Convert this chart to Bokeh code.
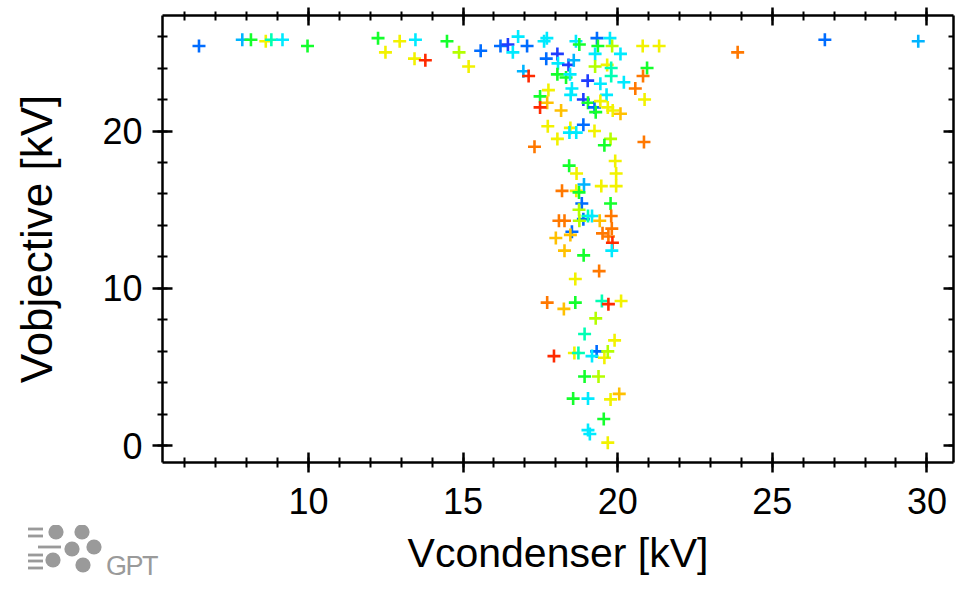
from bokeh.plotting import figure
from bokeh.layouts import column
from bokeh.models import (LinearAxis, SingleIntervalTicker, Div,
                          CustomJSTickFormatter)
from bokeh.embed import file_html
from bokeh.resources import INLINE

# ---------------- data ----------------
vcondenser = [6.46, 7.86, 8.14, 8.62, 8.80, 9.16, 9.97, 12.25, 12.49, 12.95,
              13.46, 13.43, 13.78, 14.48, 14.87, 15.18, 15.57, 16.21, 16.45, 16.61,
              16.78, 17.07, 17.62, 17.71, 18.65, 18.76, 19.33, 19.36, 19.75, 19.82,
              20.81, 21.34, 19.27, 20.09, 17.69, 18.05, 18.07, 18.41, 18.58, 19.27,
              19.66, 19.79, 16.95, 17.12, 18.05, 18.33, 18.46, 19.79, 20.95, 20.82,
              19.03, 19.44, 20.20, 20.57, 17.76, 18.52, 18.48, 19.64, 17.49, 17.72,
              17.49, 18.17, 18.89, 19.04, 19.25, 19.29, 19.44, 19.68, 19.84, 20.09,
              20.87, 17.74, 18.89, 18.47, 18.44, 18.66, 19.25, 18.05, 19.77, 20.85,
              17.31, 19.57, 18.43, 19.92, 18.67, 19.95, 18.91, 19.47, 19.95, 18.20,
              18.66, 18.75, 18.84, 19.77, 18.75, 19.79, 18.10, 18.28, 18.89, 19.04,
              19.17, 18.76, 19.42, 19.51, 19.81, 19.70, 19.83, 18.52, 18.47, 18.00,
              19.81, 18.28, 18.90, 19.40, 18.63, 17.72, 18.63, 19.49, 19.70, 20.11,
              18.26, 19.29, 18.93, 19.90, 17.94, 18.60, 18.73, 19.32, 19.17, 19.57,
              19.68, 18.93, 19.38, 18.56, 19.04, 19.77, 20.05, 19.55, 19.04, 19.10,
              19.68, 23.88, 26.70, 29.72]

vobjective = [25.4, 25.8, 25.8, 25.7, 25.8, 25.8, 25.4, 25.9, 25.0, 25.7,
              25.8, 24.6, 24.5, 25.7, 25.0, 24.1, 25.1, 25.4, 25.5, 25.0,
              26.0, 25.4, 25.7, 25.9, 25.7, 25.5, 25.9, 25.4, 25.9, 25.4,
              25.4, 25.4, 24.9, 24.9, 24.6, 24.9, 24.3, 24.2, 24.5, 24.1,
              24.2, 24.0, 23.8, 23.5, 23.6, 23.4, 23.6, 23.5, 24.0, 23.5,
              23.2, 23.0, 23.1, 22.7, 22.6, 22.7, 22.3, 22.3, 22.2, 21.8,
              21.5, 21.3, 22.0, 21.8, 21.5, 21.2, 21.9, 21.5, 21.3, 21.1,
              22.0, 20.3, 20.4, 20.2, 19.9, 19.9, 20.0, 19.5, 19.5, 19.3,
              19.0, 19.1, 17.8, 18.1, 17.3, 17.3, 16.6, 16.5, 16.5, 16.2,
              16.2, 16.1, 15.4, 15.4, 15.0, 14.6, 14.3, 14.3, 14.4, 14.6,
              14.6, 14.3, 14.3, 13.5, 13.8, 13.3, 12.9, 13.6, 13.4, 13.2,
              12.4, 12.4, 12.1, 11.1, 10.6, 9.1, 9.1, 9.2, 9.0, 9.2,
              8.7, 8.1, 7.1, 6.7, 5.7, 5.9, 5.9, 6.0, 5.7, 5.6,
              6.0, 4.4, 4.4, 3.0, 3.0, 2.95, 3.3, 1.7, 1.0, 0.75,
              0.2, 25.0, 25.8, 25.7]

color_codes = ["B", "LB", "G", "Y", "T", "C", "G", "G", "Y", "Y",
               "C", "Y", "R", "G", "YG", "Y", "B", "B", "DB", "C",
               "C", "B", "C", "C", "C", "G", "B", "G", "C", "YG",
               "Y", "Y", "C", "C", "B", "DB", "C", "DB", "LB", "YG",
               "Y", "T", "LB", "R", "G", "G", "C", "T", "G", "O",
               "DB", "C", "C", "O", "Y", "C", "C", "C", "G", "A",
               "R", "A", "DB", "G", "B", "G", "Y", "Y", "Y", "A",
               "Y", "Y", "B", "Y", "C", "C", "Y", "Y", "YG", "O",
               "O", "G", "G", "Y", "Y", "Y", "LB", "Y", "Y", "O",
               "Y", "G", "B", "G", "YG", "O", "O", "O", "B", "T",
               "C", "YG", "A", "O", "O", "O", "R", "B", "A", "A",
               "C", "A", "G", "O", "Y", "O", "G", "T", "R", "Y",
               "A", "YG", "T", "Y", "R", "Y", "T", "B", "C", "Y",
               "YG", "G", "YG", "G", "C", "Y", "A", "G", "C", "C",
               "Y", "O", "B", "LB"]

palette = {"DB": "#1f3cff", "B": "#006cff", "LB": "#00b4ff", "C": "#00eaff",
           "T": "#00ffb4", "G": "#14ff2c", "YG": "#b4ff00", "Y": "#f2f200",
           "A": "#ffc000", "O": "#ff7800", "R": "#ff2a00"}
colors = [palette[c] for c in color_codes]

x_label = "Vcondenser [kV]"
y_label = "Vobjective [kV]"
logo_text = "GPT"

X_RANGE = (5.28, 30.86)
Y_RANGE = (-1.06, 27.34)

FONT = "Liberation Sans"
W, H = 958, 589
FL, FR, FT, FB = 162, 953, 15, 462

p = figure(width=W, height=H, x_range=X_RANGE, y_range=Y_RANGE,
           output_backend="svg", toolbar_location=None,
           min_border_left=FL, min_border_right=W - FR,
           min_border_top=FT, min_border_bottom=H - FB,
           x_axis_label=x_label, y_axis_label=y_label)
p.outline_line_color = None
p.grid.visible = False
p.background_fill_color = "white"
p.border_fill_color = "white"

blank = CustomJSTickFormatter(code="return ''")


def style(ax, tin, tout, labels=True):
    ax.axis_line_width = 2.5
    ax.axis_line_color = "black"
    ax.major_tick_in = tin
    ax.major_tick_out = tout
    ax.minor_tick_in = tin // 2
    ax.minor_tick_out = tout // 2
    ax.major_tick_line_width = 2.5
    ax.minor_tick_line_width = 2
    ax.major_tick_line_color = "black"
    ax.minor_tick_line_color = "black"
    if labels:
        ax.major_label_text_font = FONT
        ax.major_label_text_font_size = "36px"
        ax.major_label_text_color = "black"
        ax.axis_label_text_font = FONT
        ax.axis_label_text_font_style = "normal"
        ax.axis_label_text_color = "black"
    else:
        ax.formatter = blank
        ax.major_label_standoff = 0


xb = p.xaxis[0]
xb.ticker = SingleIntervalTicker(interval=5, num_minor_ticks=5)
style(xb, 10, 10)
xb.major_label_standoff = 15
xb.axis_label_text_font_size = "41px"
xb.axis_label_standoff = 13

yl = p.yaxis[0]
yl.ticker = SingleIntervalTicker(interval=10, num_minor_ticks=5)
style(yl, 10, 10)
yl.major_label_standoff = 10
yl.axis_label_text_font_size = "44px"
yl.axis_label_standoff = 38

xt = LinearAxis(ticker=SingleIntervalTicker(interval=5, num_minor_ticks=5))
style(xt, 10, 8, labels=False)
p.add_layout(xt, "above")

yr = LinearAxis(ticker=SingleIntervalTicker(interval=10, num_minor_ticks=5))
style(yr, 10, 0, labels=False)
p.add_layout(yr, "right")

p.scatter(vcondenser, vobjective, marker="cross", size=13, line_width=2.6,
          line_color=colors)

# ---------------- GPT logo: transparent overlay over the bottom-left corner ----
GRAY = "#9a9a9a"
LH = 64
TOP = H - LH             # page y of the overlay's top edge
circ = [(56, 532), (82, 532), (72, 549), (94, 547), (53, 560), (83, 565)]
bars = [(28, 43, 529), (28, 43, 536), (38, 61, 547), (28, 43, 555),
        (28, 43, 561), (28, 43, 568)]
parts = ['<svg xmlns="http://www.w3.org/2000/svg" width="%d" height="%d" '
         'style="display:block">' % (W, LH)]
for cx, cy in circ:
    parts.append('<circle cx="%g" cy="%g" r="7.6" fill="%s"/>' % (cx, cy - TOP, GRAY))
for x0, x1, yy in bars:
    parts.append('<rect x="%g" y="%g" width="%g" height="2.8" fill="%s"/>'
                 % (x0, yy - TOP - 1.4, x1 - x0, GRAY))
parts.append('<text x="106" y="%g" font-family="Liberation Sans" font-size="27" '
             'letter-spacing="-1.5" fill="%s">%s</text>' % (575 - TOP, GRAY, logo_text))
parts.append('</svg>')
logo = Div(text="".join(parts), width=W, height=LH, margin=(-LH, 0, 0, 0),
           styles={"background": "transparent", "pointer-events": "none"})

layout = column(p, logo, spacing=0)
open("out.html", "w").write(file_html(layout, INLINE))
